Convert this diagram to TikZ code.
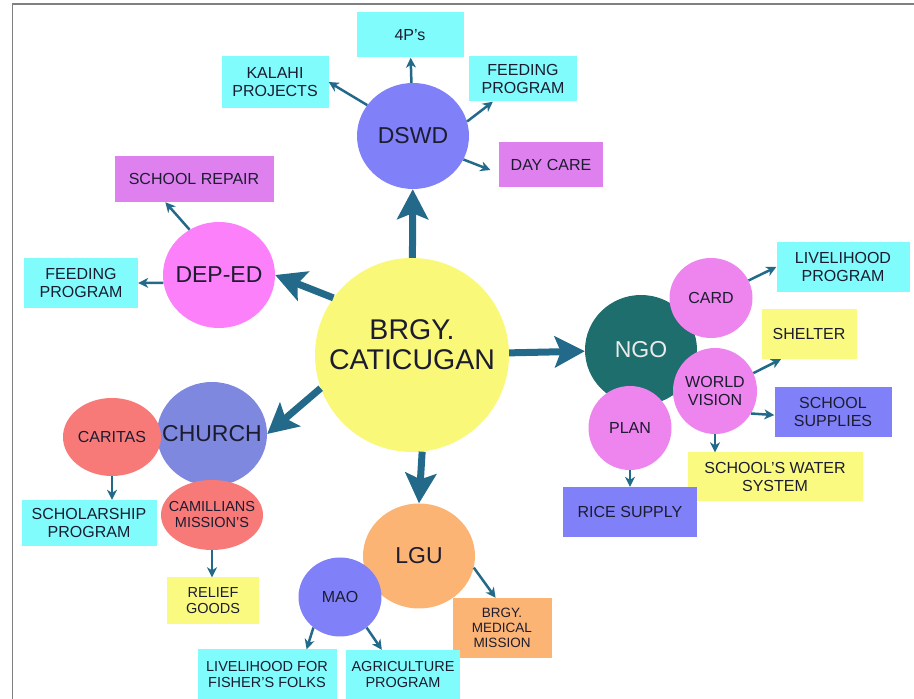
\documentclass[tikz,border=0pt]{standalone}
\usepackage{fontspec}
\setmainfont{Liberation Sans}
\usetikzlibrary{positioning, arrows.meta, shapes.geometric}

\definecolor{ink}{HTML}{1C1C30}
\definecolor{flow}{HTML}{236A8A}
\definecolor{sun}{HTML}{FAF878}
\definecolor{aqua}{HTML}{80FCFC}
\definecolor{lilac}{HTML}{DE80EE}
\definecolor{rose}{HTML}{FC80FA}
\definecolor{orchid}{HTML}{EE84EE}
\definecolor{periw}{HTML}{8080F8}
\definecolor{slate}{HTML}{7E88DE}
\definecolor{salmon}{HTML}{F87A78}
\definecolor{peach}{HTML}{FBB474}
\definecolor{lemon}{HTML}{FAFA80}
\definecolor{ngoteal}{HTML}{1F6E6E}

\begin{document}
\begin{tikzpicture}[x=1pt, y=1pt, on grid,
    box/.style 2 args={rectangle, inner sep=0pt, align=center, text=ink,
      font=\fontsize{16}{17.5}\selectfont, minimum width=#1, minimum height=#2},
    bub/.style 2 args={ellipse, inner sep=0pt, minimum width=#1, minimum height=#2},
    lbl/.style={align=center, text=ink, inner sep=0pt},
    hubtext/.style={font=\fontsize{23}{25}\selectfont},
    leaftext/.style={font=\fontsize{16}{18}\selectfont},
    trunk/.style={flow, line width=7pt, -{Stealth[length=30pt, width=31pt, inset=6pt]}},
    twig/.style={flow, line width=2.5pt, -{Stealth[length=10pt, width=10pt, inset=3pt]}}]

  \useasboundingbox (0,0) rectangle (914,699);
  \draw[gray, line width=1.5pt] (12.5,0) -- (12.5,695) -- (914,695);

  % centre
  \node[circle, fill=sun, minimum size=194pt, inner sep=0pt,
    label={[lbl, yshift=10pt, font=\fontsize{28.5}{30}\selectfont]center:BRGY.\\CATICUGAN}] (brgy) at (412,344) {};

  % agencies
  \node[bub={112pt}{106pt}, fill=periw, above right=219pt and 1pt of brgy,
    label={[lbl, hubtext]center:DSWD}] (dswd) {};
  \node[bub={112pt}{106pt}, fill=rose, above left=80pt and 193pt of brgy,
    label={[lbl, hubtext]center:DEP-ED}] (deped) {};
  \node[bub={110pt}{104pt}, fill=slate, below left=79pt and 200pt of brgy,
    label={[lbl, hubtext]center:CHURCH}] (church) {};
  \node[bub={112pt}{105pt}, fill=peach, below right=201pt and 7pt of brgy,
    label={[lbl, hubtext]center:LGU}] (lgu) {};
  \node[bub={112pt}{110pt}, fill=ngoteal, above right=5pt and 229pt of brgy,
    label={[lbl, hubtext, text=white!92!black]center:NGO}] (ngo) {};

  % DSWD
  \node[box={107pt}{45pt}, fill=aqua, above left=101pt and 3pt of dswd] (p4) {4P's};
  \node[box={107pt}{52pt}, fill=aqua, above left=54pt and 138pt of dswd] (kalahi) {KALAHI\\PROJECTS};
  \node[box={108pt}{45pt}, fill=aqua, above right=57pt and 110pt of dswd] (feedtop) {FEEDING\\PROGRAM};
  \node[box={104pt}{45pt}, fill=lilac, below right=29pt and 138pt of dswd] (daycare) {DAY CARE};

  % DEP-ED
  \node[box={159pt}{46pt}, fill=lilac, above left=96pt and 25pt of deped] (schoolrep) {SCHOOL REPAIR};
  \node[box={114pt}{50pt}, fill=aqua, below left=8pt and 138pt of deped] (feedleft) {FEEDING\\PROGRAM};

  % church
  \node[bub={98pt}{78pt}, fill=salmon, below left=3pt and 100pt of church,
    label={[lbl, leaftext]center:CARITAS}] (caritas) {};
  \node[bub={102pt}{70pt}, fill=salmon, below=81pt of church,
    label={[lbl, font=\fontsize{14.5}{16}\selectfont]center:CAMILLIANS\\MISSION'S}] (camil) {};
  \node[box={135pt}{46pt}, fill=aqua, below left=86pt and 23pt of caritas] (scholar) {SCHOLARSHIP\\PROGRAM};
  \node[box={92pt}{47pt}, fill=lemon, below right=86pt and 1pt of camil,
    font=\fontsize{14.5}{16}\selectfont] (relief) {RELIEF\\GOODS};

  % LGU
  \node[bub={83pt}{79pt}, fill=periw, below left=41pt and 79pt of lgu,
    label={[lbl, leaftext]center:MAO}] (mao) {};
  \node[box={99pt}{60pt}, fill=peach, below right=72pt and 83pt of lgu,
    font=\fontsize{13.5}{15}\selectfont] (medical) {BRGY.\\MEDICAL\\MISSION};
  \node[box={139pt}{51pt}, fill=aqua, below left=78pt and 73pt of mao,
    font=\fontsize{14.5}{16}\selectfont] (livefor) {LIVELIHOOD FOR\\FISHER'S FOLKS};
  \node[box={114pt}{50pt}, fill=aqua, below right=78pt and 63pt of mao,
    font=\fontsize{14.5}{16}\selectfont] (agri) {AGRICULTURE\\PROGRAM};

  % NGO
  \node[bub={83pt}{80pt}, fill=orchid, above right=52pt and 70pt of ngo,
    label={[lbl, leaftext]center:CARD}] (card) {};
  \node[bub={84pt}{86pt}, fill=orchid, below right=41pt and 74pt of ngo,
    label={[lbl, leaftext]center:WORLD\\VISION}] (wv) {};
  \node[bub={83pt}{84pt}, fill=orchid, below left=78pt and 11pt of ngo,
    label={[lbl, leaftext]center:PLAN}] (plan) {};
  \node[box={133pt}{50pt}, fill=aqua, above right=31pt and 132pt of card] (liveprog) {LIVELIHOOD\\PROGRAM};
  \node[box={95pt}{50pt}, fill=lemon, above right=57pt and 94pt of wv] (shelter) {SHELTER};
  \node[box={117pt}{50pt}, fill=periw, below right=21pt and 118pt of wv] (supplies) {SCHOOL\\SUPPLIES};
  \node[box={175pt}{49pt}, fill=lemon, below right=86pt and 60pt of wv] (water) {SCHOOL'S WATER\\SYSTEM};
  \node[box={134pt}{50pt}, fill=periw, below=84pt of plan] (rice) {RICE SUPPLY};

  % main arrows
  \draw[trunk] (brgy) -- (dswd);
  \draw[trunk] (brgy.144) -- (deped.east);
  \draw[trunk] (brgy.200) -- (church.east);
  \draw[trunk] (brgy.-84) -- (lgu.north);
  \draw[trunk] (brgy) -- (ngo);

  % small arrows
  \draw[twig] (dswd) -- (p4);
  \draw[twig] (dswd.146) -- (kalahi.east);
  \draw[twig] (dswd.15) -- (feedtop.217);
  \draw[twig, shorten >=9pt] (dswd.-25) -- (daycare.189);
  \draw[twig] (deped.123) -- (schoolrep.219);
  \draw[twig] (deped.188) -- (feedleft.east);
  \draw[twig] (caritas.south) -- (caritas.south |- scholar.north);
  \draw[twig] (camil.south) -- (camil.south |- relief.north);
  \draw[twig] (mao.229) -- (livefor.33);
  \draw[twig] (mao.-49) -- (agri.130);
  \draw[twig] (lgu.-12) -- (medical.102);
  \draw[twig] (card.25) -- (liveprog.west);
  \draw[twig] (wv.25) -- (shelter.222);
  \draw[twig] (wv.-32) -- (supplies.183);
  \draw[twig] (wv.south) -- (wv.south |- water.north);
  \draw[twig] (plan.south) -- (plan.south |- rice.north);
\end{tikzpicture}
\end{document}
